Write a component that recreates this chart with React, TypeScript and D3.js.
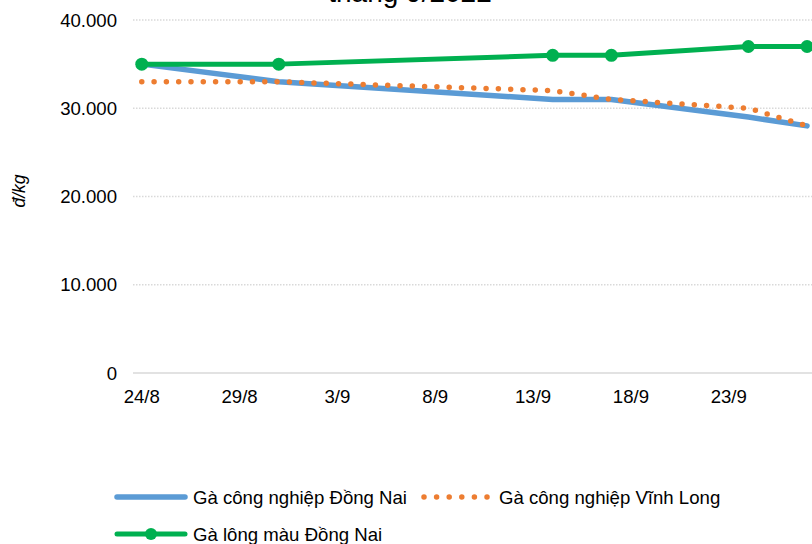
import React from "react";
import * as d3 from "d3";

const dates = ["2022-08-24", "2022-08-31", "2022-09-14", "2022-09-17", "2022-09-24", "2022-09-27"];
const dongNaiCN = [35000, 33000, 31000, 31000, 29000, 28000];
const vinhLongCN = [33000, 33000, 32000, 31000, 30000, 28000];
const dongNaiLongMau = [35000, 35000, 36000, 36000, 37000, 37000];
const xTickDates = ["2022-08-24", "2022-08-29", "2022-09-03", "2022-09-08", "2022-09-13", "2022-09-18", "2022-09-23"];
const yTicks = [0, 10000, 20000, 30000, 40000];
const seriesNames = ["Gà công nghiệp Đồng Nai", "Gà công nghiệp Vĩnh Long", "Gà lông màu Đồng Nai"];
const titleText = "tháng 9/2022";
const yTitle = "đ/kg";

const W = 812;
const H = 544;
const FONT = "'Liberation Sans', Arial, sans-serif";
const BLUE = "#5B9BD5";
const ORANGE = "#ED7D31";
const GREEN = "#00B050";

const parse = d3.utcParse("%Y-%m-%d");
const day = 86400000;

export default function App() {
  const x0 = parse("2022-08-24")!.getTime() - day / 2;
  const x1 = parse("2022-09-28")!.getTime() + day / 2;
  const dayPx = 19.567;
  const x = d3.scaleUtc().domain([new Date(x0), new Date(x1)]).range([132, 132 + 36 * dayPx]);
  const y = d3.scaleLinear().domain([0, 40000]).range([373, 20]);
  const fmtY = (v: number) => d3.format(",")(v).replace(/,/g, ".");
  const fmtX = (d: Date) => `${d.getUTCDate()}/${d.getUTCMonth() + 1}`;

  const mk = (vals: number[]) =>
    dates.map((d, i) => ({ d: parse(d)!, v: vals[i] }));
  const line = d3
    .line<{ d: Date; v: number }>()
    .x((p) => x(p.d))
    .y((p) => y(p.v));

  const blue = mk(dongNaiCN);
  const orange = mk(vinhLongCN);
  const green = mk(dongNaiLongMau);

  return (
    <svg width={W} height={H} style={{ position: "absolute", left: 0, top: 0, background: "#fff" }} fontFamily={FONT}>
      <text x={410} y={2} textAnchor="middle" fontSize={28} fill="#000">{titleText}</text>
      {yTicks.map((t) => (
        <g key={t}>
          {t > 0 ? (
            <line x1={133} x2={W} y1={y(t)} y2={y(t)} stroke="#d9d9d9" strokeWidth={1.5} strokeDasharray="1.5 1.5" />
          ) : (
            <line x1={133} x2={W} y1={y(t)} y2={y(t)} stroke="#d9d9d9" strokeWidth={1.5} />
          )}
          <text x={117} y={y(t)} dy="0.35em" textAnchor="end" fontSize={18.6} fill="#000">{fmtY(t)}</text>
        </g>
      ))}
      {xTickDates.map((s) => {
        const d = parse(s)!;
        return (
          <text key={s} x={x(d)} y={403} textAnchor="middle" fontSize={18.6} fill="#000">{fmtX(d)}</text>
        );
      })}
      <text transform={`translate(25,191) rotate(-90)`} textAnchor="middle" fontSize={17.5} fontStyle="italic" fill="#000">{yTitle}</text>

      <path d={line(blue)!} fill="none" stroke={BLUE} strokeWidth={5.5} strokeLinecap="round" strokeLinejoin="round" />
      <path d={line(orange)!} fill="none" stroke={ORANGE} strokeWidth={5.5} strokeLinecap="round" strokeDasharray="0 12.3" />
      <path d={line(green)!} fill="none" stroke={GREEN} strokeWidth={5} strokeLinecap="round" strokeLinejoin="round" />
      {green.map((p, i) => (
        <circle key={i} cx={x(p.d)} cy={y(p.v)} r={6.5} fill={GREEN} />
      ))}

      <g>
        <line x1={117} x2={185} y1={497} y2={497} stroke={BLUE} strokeWidth={5.5} strokeLinecap="round" />
        <text x={193} y={497} dy="0.35em" fontSize={18.6} fill="#000">{seriesNames[0]}</text>
        <line x1={424} x2={490} y1={497} y2={497} stroke={ORANGE} strokeWidth={5.5} strokeLinecap="round" strokeDasharray="0 12.6" />
        <text x={499} y={497} dy="0.35em" fontSize={18.6} fill="#000">{seriesNames[1]}</text>
        <line x1={117} x2={185} y1={534} y2={534} stroke={GREEN} strokeWidth={5} strokeLinecap="round" />
        <circle cx={151} cy={534} r={6} fill={GREEN} />
        <text x={193} y={534} dy="0.35em" fontSize={18.6} fill="#000">{seriesNames[2]}</text>
      </g>
    </svg>
  );
}
